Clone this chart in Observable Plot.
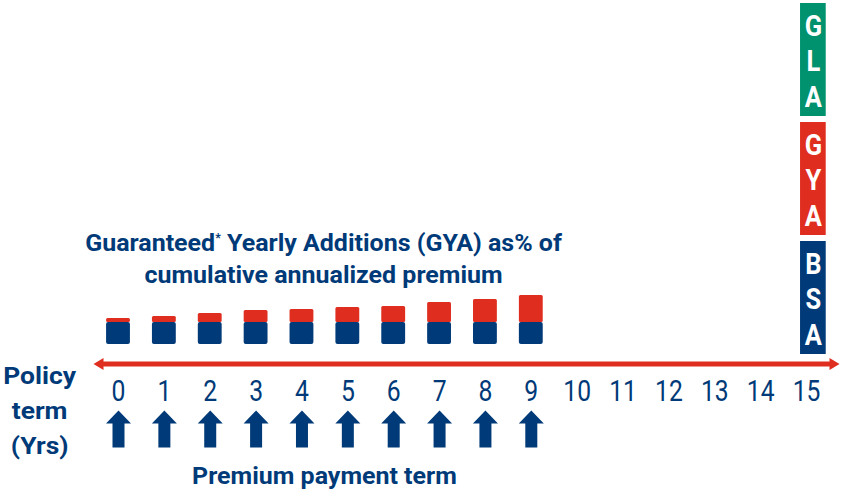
<!DOCTYPE html>
<html>
<head>
<meta charset="utf-8">
<script src="https://cdn.jsdelivr.net/npm/d3@7"></script>
<script src="https://cdn.jsdelivr.net/npm/@observablehq/plot@0.6"></script>
<style>
  body { margin: 0; background: #ffffff; }
  #chart svg { display: block; }
</style>
</head>
<body>
<div id="chart"></div>
<script>
// ---------- data ----------
const tickLabels = ["0","1","2","3","4","5","6","7","8","9","10","11","12","13","14","15"];
const premiumYears = [0, 1, 2, 3, 4, 5, 6, 7, 8, 9];
const bsaHeights = [22, 22, 22, 22, 22, 22, 22, 22, 22, 22];
const gyaHeights = [4, 6, 9, 12, 13, 15, 16, 20, 23, 27];
const benefitBlocks = ["BSA", "GYA", "GLA"];
const benefitLetters = [["B","S","A"], ["G","Y","A"], ["G","L","A"]];
const titleLines = ["Guaranteed* Yearly Additions (GYA) as% of", "cumulative annualized premium"];
const policyLabelLines = ["Policy", "term", "(Yrs)"];
const paymentLabel = "Premium payment term";

// ---------- styles ----------
const NAVY = "#013a78";
const RED = "#df2e1f";
const GREEN = "#00916e";
const blockColor = {BSA: NAVY, GYA: RED, GLA: GREEN};

// ---------- derived tables ----------
const bars = premiumYears.map((year, i) => ({year, bsa: bsaHeights[i], gya: gyaHeights[i]}));
const letters = benefitBlocks.flatMap((b, i) => benefitLetters[i].map((letter, j) => ({block: b, i, j, letter})));

// ---------- layout (data units of the scales) ----------
const barHalf = 0.26;
const axisY = -19.5, axisFrom = -0.545, axisTo = 15.72;
const blockBottom = -10, blockHeight = 113, blockStep = 119;
const blockX1 = 14.87, blockX2 = 15.43, blockXc = 15.15;

// custom symbols
const upArrow = {
  draw(ctx, size) {
    const k = Math.sqrt(size / Math.PI) / 18.5;
    const pts = [[0,-18.5],[12.5,-5.5],[6,-5.5],[6,18.5],[-6,18.5],[-6,-5.5],[-12.5,-5.5]];
    ctx.moveTo(pts[0][0]*k, pts[0][1]*k);
    for (let p of pts.slice(1)) ctx.lineTo(p[0]*k, p[1]*k);
    ctx.closePath();
  }
};
const headLeft = {
  draw(ctx, size) {
    const k = Math.sqrt(size / Math.PI) / 6;
    ctx.moveTo(0, 0); ctx.lineTo(10*k, -6*k); ctx.lineTo(10*k, 6*k); ctx.closePath();
  }
};
const headRight = {
  draw(ctx, size) {
    const k = Math.sqrt(size / Math.PI) / 6;
    ctx.moveTo(0, 0); ctx.lineTo(-10*k, -6*k); ctx.lineTo(-10*k, 6*k); ctx.closePath();
  }
};

const svg = Plot.plot({
  width: 845,
  height: 494,
  marginTop: 0, marginBottom: 0,
  marginLeft: 118, marginRight: 39,
  x: {domain: [0, 15], axis: null},
  y: {domain: [-150, 344], axis: null},
  color: {type: "identity"},
  style: {fontFamily: "Roboto, 'Noto Sans', sans-serif", background: "#ffffff", overflow: "visible"},
  marks: [
    // bars: BSA (base) and GYA (top)
    Plot.rect(bars, {x1: d => d.year - barHalf, x2: d => d.year + barHalf, y1: () => 0, y2: d => d.bsa, fill: NAVY, rx: 2}),
    Plot.rect(bars, {x1: d => d.year - barHalf, x2: d => d.year + barHalf, y1: d => d.bsa, y2: d => d.bsa + d.gya, fill: RED, rx: 1.5}),
    // maturity stack at year 15
    Plot.rect(benefitBlocks, {
      x1: () => blockX1, x2: () => blockX2,
      y1: (d, i) => blockBottom + i * blockStep,
      y2: (d, i) => blockBottom + i * blockStep + blockHeight,
      fill: d => blockColor[d]
    }),
    Plot.text(letters, {
      x: () => blockXc,
      y: d => blockBottom + d.i * blockStep + blockHeight - 22.5 - 35.7 * d.j,
      text: "letter", fill: "#ffffff", fontSize: 30, fontWeight: "bold", lineAnchor: "middle",
      className: "cond"
    }),
    // policy term axis line with arrowheads
    Plot.ruleY([axisY], {x1: axisFrom + 0.15, x2: axisTo - 0.15, stroke: RED, strokeWidth: 5}),
    Plot.dot([axisFrom], {x: d => d, y: () => axisY, r: 6, symbol: headLeft, fill: RED, stroke: "none"}),
    Plot.dot([axisTo], {x: d => d, y: () => axisY, r: 6, symbol: headRight, fill: RED, stroke: "none"}),
    // tick labels
    Plot.text(tickLabels, {x: d => +d, y: () => -47.5, text: d => d, fontSize: 29, fill: NAVY, lineAnchor: "middle", className: "cond"}),
    // premium payment arrows
    Plot.dot(premiumYears, {x: d => d, y: () => -84.5, r: 18.5, symbol: upArrow, fill: NAVY, stroke: "none"}),
    // labels
    Plot.text(titleLines, {x: () => 4.47, y: (d, i) => 101.5 - i * 32, text: d => d, fontSize: 24, fontWeight: "bold", fill: NAVY, lineAnchor: "middle", className: "wide"}),
    Plot.text(policyLabelLines, {x: () => -1.72, y: (d, i) => -31.5 - i * 35, text: d => d, fontSize: 24, fontWeight: "bold", fill: NAVY, lineAnchor: "middle", className: "wider"}),
    Plot.text([paymentLabel], {x: () => 4.49, y: () => -131.5, text: d => d, fontSize: 24, fontWeight: "bold", fill: NAVY, lineAnchor: "middle", className: "wide"})
  ]
});

document.getElementById("chart").append(svg);

// superscript asterisk
const ns = "http://www.w3.org/2000/svg";
svg.querySelectorAll("text").forEach(t => {
  const s = t.textContent;
  if (s.startsWith("Guaranteed*")) {
    t.textContent = "";
    const a = document.createElementNS(ns, "tspan"); a.textContent = "Guaranteed";
    const b = document.createElementNS(ns, "tspan"); b.textContent = "*"; b.setAttribute("font-size", "12"); b.setAttribute("dy", "-9");
    const c = document.createElementNS(ns, "tspan"); c.textContent = s.slice("Guaranteed*".length); c.setAttribute("dy", "9");
    t.append(a, b, c);
  }
});
// width adjustment to match the reference typeface proportions
const factors = {cond: 0.85, wide: 1.04, wider: 1.1};
for (const [cls, f] of Object.entries(factors)) {
  svg.querySelectorAll(`g.${cls} text, .${cls} text`).forEach(t => {
    if (t.hasAttribute("textLength")) return;
    const w = t.getComputedTextLength();
    t.setAttribute("textLength", (w * f).toFixed(1));
    t.setAttribute("lengthAdjust", "spacingAndGlyphs");
  });
}
</script>
</body>
</html>
